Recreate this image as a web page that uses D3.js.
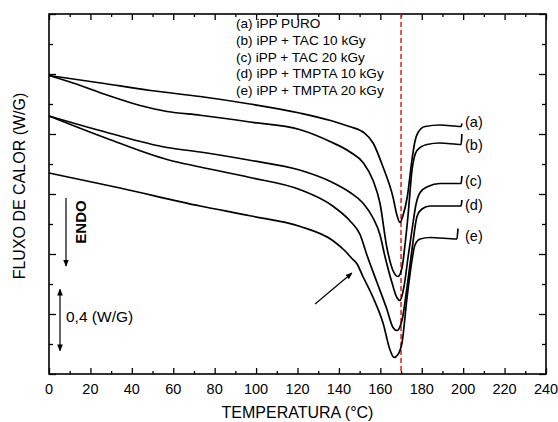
<!DOCTYPE html>
<html lang="en">
<head>
<meta charset="UTF-8">
<title>DSC</title>
<script src="https://cdn.jsdelivr.net/npm/d3@7"></script>
<style>
  body { margin: 0; background: #fff; }
  text { font-family: Arial, "Liberation Sans", sans-serif; fill: #000; }
</style>
</head>
<body>
<script>
// curves: [temperatura, fluxo]
var curveA = [[0,1.99],[25,1.94],[49,1.89],[73,1.85],[97,1.80],[121,1.74],[136,1.69],[145,1.65],[152,1.61],
  [156.5,1.54],[161.3,1.38],[166.1,1.18],[168,1.06],[169.5,1.01],[171,1.06],[173,1.18],[175.3,1.43],
  [176.7,1.55],[178.2,1.61],[181.6,1.65],[188.8,1.66],[199,1.65],[199.4,1.67]];
var curveB = [[0,1.99],[11.6,1.94],[28,1.86],[44,1.79],[57,1.75],[73,1.725],[97,1.68],[121,1.63],
  [135.7,1.55],[145.4,1.48],[151.6,1.41],[156.5,1.29],[159.8,1.14],[163.2,0.84],[166.1,0.69],[168.5,0.65],
  [170.5,0.71],[171.9,0.86],[173.4,1.06],[175.3,1.36],[177.7,1.49],[182.5,1.53],[188.8,1.54],[199,1.53],[199.4,1.60]];
var curveC = [[0,1.72],[28,1.61],[57,1.51],[73,1.48],[97,1.425],[121,1.36],[135.7,1.285],[145.4,1.21],
  [151.6,1.14],[156.5,1.04],[159.8,0.93],[162.3,0.78],[165.6,0.61],[168,0.51],[169.5,0.49],[171.4,0.58],
  [173.4,0.78],[175.3,0.96],[177.2,1.13],[179.2,1.21],[183,1.25],[188.8,1.27],[199,1.27],[199.4,1.32]];
var curveD = [[0,1.72],[28,1.57],[57,1.43],[73,1.38],[97,1.31],[121,1.23],[137,1.12],[145.4,1.02],
  [150.2,0.93],[153.6,0.79],[158.4,0.61],[163.2,0.43],[166.1,0.31],[168,0.29],[170.5,0.36],[172.9,0.58],
  [175.3,0.83],[177.7,1.05],[180.1,1.10],[184,1.12],[199,1.12],[199.4,1.16]];
var curveE = [[0,1.34],[34.3,1.24],[73,1.12],[97,1.055],[121,0.985],[137,0.89],[143,0.82],[146.3,0.77],[148.7,0.735],
  [151.6,0.65],[156.5,0.51],[161.3,0.34],[164.7,0.16],[166.6,0.11],[168.5,0.13],[170.5,0.21],[172.9,0.51],
  [175.3,0.76],[176.7,0.86],[179.2,0.90],[184,0.91],[197,0.90],[197.5,0.97]];

var curveNames = ["(a)", "(b)", "(c)", "(d)", "(e)"];
var legendLines = ["(a) iPP PURO", "(b) iPP + TAC 10 kGy", "(c) iPP + TAC 20 kGy",
  "(d) iPP + TMPTA 10 kGy", "(e) iPP + TMPTA 20 kGy"];
var xTicks = [0,20,40,60,80,100,120,140,160,180,200,220,240];
var peakTemp = 170;

var W = 558, H = 422;
var pL = 49, pR = 546, pT = 14, pB = 374;

var svg = d3.select("body").append("svg")
  .attr("width", W).attr("height", H);

var x = d3.scaleLinear().domain([0, 240]).range([pL, pR]);
var y = d3.scaleLinear().domain([0, 2.4]).range([pB, pT]);

// axes, ticks inside, on all four sides
var majorX = d3.range(0, 241, 20), minorX = d3.range(10, 240, 20);
var majorY = [0, 0.4, 0.8, 1.2, 1.6, 2.0, 2.4], minorY = [0.2, 0.6, 1.0, 1.4, 1.8, 2.2];

function ticks(g, ax, len) {
  g.call(ax.tickSizeInner(len).tickSizeOuter(0).tickFormat(""));
  g.select(".domain").remove();
  g.selectAll("line").attr("stroke", "#000").attr("stroke-width", 1.3);
}
svg.append("g").attr("transform", "translate(0," + pB + ")")
  .call(ticks, d3.axisTop(x).tickValues(majorX), 6);
svg.append("g").attr("transform", "translate(0," + pB + ")")
  .call(ticks, d3.axisTop(x).tickValues(minorX), 3);
svg.append("g").attr("transform", "translate(0," + pT + ")")
  .call(ticks, d3.axisBottom(x).tickValues(majorX), 6);
svg.append("g").attr("transform", "translate(0," + pT + ")")
  .call(ticks, d3.axisBottom(x).tickValues(minorX), 3);
svg.append("g").attr("transform", "translate(" + pL + ",0)")
  .call(ticks, d3.axisRight(y).tickValues(majorY), 7);
svg.append("g").attr("transform", "translate(" + pL + ",0)")
  .call(ticks, d3.axisRight(y).tickValues(minorY), 4);
svg.append("g").attr("transform", "translate(" + pR + ",0)")
  .call(ticks, d3.axisLeft(y).tickValues(majorY), 7);
svg.append("g").attr("transform", "translate(" + pR + ",0)")
  .call(ticks, d3.axisLeft(y).tickValues(minorY), 4);

svg.append("rect")
  .attr("x", pL).attr("y", pT)
  .attr("width", pR - pL).attr("height", pB - pT)
  .attr("fill", "none").attr("stroke", "#000").attr("stroke-width", 1.6);

// tick labels
svg.selectAll(".xl").data(xTicks).enter().append("text")
  .attr("x", function(d){ return x(d); })
  .attr("y", 394)
  .attr("text-anchor", "middle")
  .style("font-size", "14.5px")
  .text(function(d){ return d; });

// dashed line at the peak
svg.append("line")
  .attr("x1", x(peakTemp)).attr("x2", x(peakTemp))
  .attr("y1", pT).attr("y2", pB)
  .attr("stroke", "#e41a1c").attr("stroke-width", 1.5)
  .attr("stroke-dasharray", "5,3");

var line = d3.line()
  .x(function(d){ return x(d[0]); })
  .y(function(d){ return y(d[1]); })
  .curve(d3.curveMonotoneX);

var curves = [curveA, curveB, curveC, curveD, curveE];
svg.selectAll(".curve").data(curves).enter().append("path")
  .attr("d", line)
  .attr("fill", "none")
  .attr("stroke", "#000")
  .attr("stroke-width", 1.7)
  .attr("stroke-linejoin", "round");

// labels at curve ends
var labelY = [1.68, 1.53, 1.29, 1.127, 0.92];
svg.selectAll(".cl").data(curveNames).enter().append("text")
  .attr("x", 465)
  .attr("y", function(d, i){ return y(labelY[i]) + 5; })
  .style("font-size", "14.5px")
  .text(function(d){ return d; });

// legend text
svg.selectAll(".lg").data(legendLines).enter().append("text")
  .attr("x", 236)
  .attr("y", function(d, i){ return 28 + i * 16.8; })
  .style("font-size", "13.6px")
  .text(function(d){ return d; });

// arrows
var defs = svg.append("defs");
defs.append("marker").attr("id", "ah")
  .attr("viewBox", "0 0 10 10").attr("refX", 9).attr("refY", 5)
  .attr("markerWidth", 7).attr("markerHeight", 7)
  .attr("markerUnits", "userSpaceOnUse")
  .attr("orient", "auto-start-reverse")
  .append("path").attr("d", "M0,1 L10,5 L0,9 Z").attr("fill", "#000");

// ENDO
svg.append("line")
  .attr("x1", 66).attr("y1", 198).attr("x2", 66).attr("y2", 266)
  .attr("stroke", "#000").attr("stroke-width", 1.2)
  .attr("marker-end", "url(#ah)");
svg.append("text")
  .attr("transform", "translate(86,222) rotate(-90)")
  .attr("text-anchor", "middle")
  .style("font-size", "15px").style("font-weight", "bold")
  .text("ENDO");

// scale bar 0,4 (W/G)
svg.append("line")
  .attr("x1", 60).attr("y1", y(0.565)).attr("x2", 60).attr("y2", y(0.155))
  .attr("stroke", "#000").attr("stroke-width", 1.2)
  .attr("marker-start", "url(#ah)").attr("marker-end", "url(#ah)");
svg.append("text")
  .attr("x", 66).attr("y", 322)
  .style("font-size", "15.5px")
  .text("0,4 (W/G)");

// shoulder arrow
svg.append("line")
  .attr("x1", x(128.5)).attr("y1", y(0.467))
  .attr("x2", x(146.3)).attr("y2", y(0.673))
  .attr("stroke", "#000").attr("stroke-width", 1.2)
  .attr("marker-end", "url(#ah)");

// axis titles
svg.append("text")
  .attr("x", (pL + pR) / 2).attr("y", 418)
  .attr("text-anchor", "middle")
  .style("font-size", "16px")
  .text("TEMPERATURA (°C)");
svg.append("text")
  .attr("transform", "translate(25,186) rotate(-90)")
  .attr("text-anchor", "middle")
  .style("font-size", "16px")
  .text("FLUXO DE CALOR (W/G)");
</script>
</body>
</html>
